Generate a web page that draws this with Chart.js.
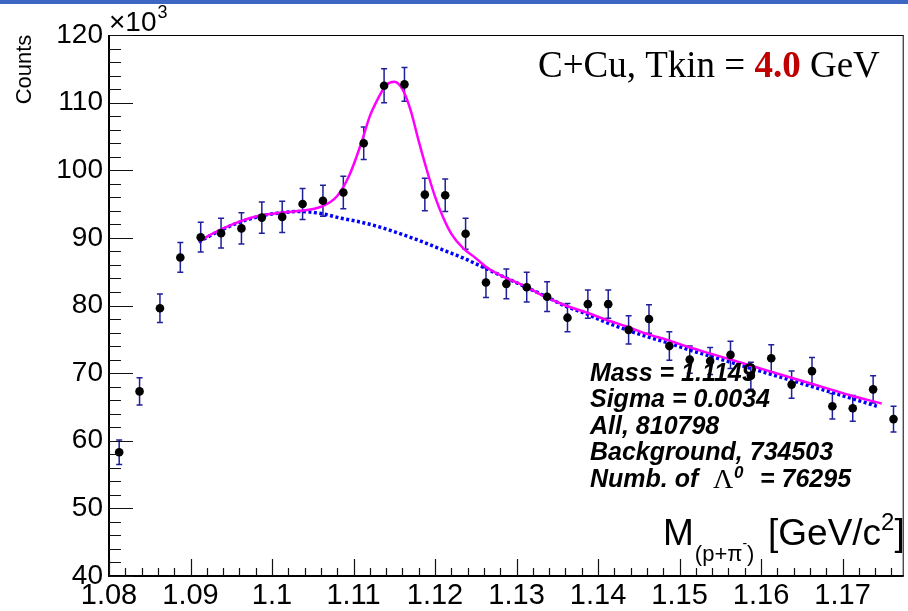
<!DOCTYPE html>
<html>
<head>
<meta charset="utf-8">
<title>Lambda C+Cu</title>
<script src="https://cdn.jsdelivr.net/npm/chart.js@4.4.1/dist/chart.umd.min.js"></script>
<style>
  html, body { margin: 0; padding: 0; background: #ffffff; }
  #grafica-container { width: 908px; height: 611px; position: relative; }
</style>
</head>
<body>
<div id="grafica-container"><canvas id="graficaMasa"></canvas></div>
<script>
// Centros de los bins de masa invariante (GeV/c^2)
const massBins = [1.08125, 1.08375, 1.08625, 1.08875, 1.09125, 1.09375, 1.09625, 1.09875,
    1.10125, 1.10375, 1.10625, 1.10875, 1.11125, 1.11375, 1.11625, 1.11875, 1.12125, 1.12375,
    1.12625, 1.12875, 1.13125, 1.13375, 1.13625, 1.13875, 1.14125, 1.14375, 1.14625, 1.14875,
    1.15125, 1.15375, 1.15625, 1.15875, 1.16125, 1.16375, 1.16625, 1.16875, 1.17125, 1.17375, 1.17625];

// Cuentas por bin (x10^3) y sus errores
const counts = [58.3, 67.3, 79.6, 87.1, 90.1, 90.7, 91.4, 93.0, 93.1, 95.0, 95.5, 96.7, 104.0,
    112.5, 112.7, 96.4, 96.3, 90.6, 83.4, 83.2, 82.7, 81.3, 78.2, 80.2, 80.2, 76.4, 78.0, 74.0,
    72.0, 71.8, 72.7, 69.6, 72.2, 68.3, 70.3, 65.1, 64.8, 67.6, 63.2];
const countErrors = [1.8, 2.0, 2.1, 2.2, 2.2, 2.2, 2.3, 2.3, 2.3, 2.3, 2.3, 2.4, 2.4, 2.5, 2.5,
    2.4, 2.4, 2.3, 2.2, 2.2, 2.2, 2.2, 2.1, 2.1, 2.1, 2.1, 2.1, 2.1, 2.0, 2.0, 2.0, 2.0, 2.0,
    2.0, 2.0, 1.9, 1.9, 2.0, 1.9];

// Ajuste total (gauss + fondo)
const fitMass = [1.091, 1.0935, 1.096, 1.0985, 1.101, 1.1035, 1.106, 1.108, 1.1095, 1.111, 1.112,
    1.113, 1.114, 1.115, 1.116, 1.117, 1.118, 1.119, 1.120, 1.121, 1.122, 1.1235, 1.125, 1.1265,
    1.1285, 1.131, 1.1335, 1.136, 1.1385, 1.141, 1.1435, 1.146, 1.1485, 1.151, 1.1535, 1.156,
    1.1585, 1.161, 1.1635, 1.166, 1.1685, 1.171, 1.1748];
const fitTotal = [89.5, 91.1, 92.4, 93.3, 93.7, 94.0, 94.6, 96.2, 99.3, 104.2, 108.0, 110.6,
    112.6, 113.1, 112.0, 108.9, 104.3, 100.0, 96.1, 93.0, 90.6, 88.4, 87.0, 85.5, 84.2, 82.9,
    81.3, 80.0, 79.0, 77.9, 76.9, 75.8, 74.9, 73.9, 73.0, 72.1, 71.2, 70.3, 69.4, 68.5, 67.6,
    66.7, 65.5];

// Fondo del ajuste
const bgMass = [1.091, 1.0935, 1.096, 1.0985, 1.101, 1.1035, 1.106, 1.1085, 1.111, 1.1135, 1.116,
    1.1185, 1.121, 1.1235, 1.126, 1.1285, 1.131, 1.1335, 1.136, 1.1385, 1.141, 1.1435, 1.146,
    1.1485, 1.151, 1.1535, 1.156, 1.1585, 1.161, 1.1635, 1.166, 1.1685, 1.171, 1.1742];
const bgFit = [89.4, 91.0, 92.3, 93.2, 93.7, 93.9, 93.6, 92.9, 92.3, 91.5, 90.5, 89.4, 88.2,
    87.0, 85.6, 84.2, 82.8, 81.4, 79.9, 78.8, 77.5, 76.4, 75.4, 74.5, 73.5, 72.6, 71.7, 70.8,
    69.9, 69.0, 68.1, 67.2, 66.3, 65.1];

// Marcas de los ejes
const xTickValues = [1.08, 1.09, 1.10, 1.11, 1.12, 1.13, 1.14, 1.15, 1.16, 1.17];
const yTickValues = [40, 50, 60, 70, 80, 90, 100, 110, 120];

const statLines = ['Mass = 1.1149', 'Sigma = 0.0034', 'All, 810798', 'Background, 734503'];

const SANS = '"Liberation Sans", Arial, Helvetica, sans-serif';
const SERIF = '"Liberation Serif", "Times New Roman", serif';

// Barras de error detras de los puntos
const errorBarsPlugin = {
    id: 'errorBars',
    beforeDatasetsDraw(chart) {
        const ctx = chart.ctx;
        const xs = chart.scales.x, ys = chart.scales.y;
        ctx.save();
        ctx.strokeStyle = '#1f1f9a';
        ctx.lineWidth = 1.5;
        massBins.forEach((m, i) => {
            const px = xs.getPixelForValue(m);
            const top = ys.getPixelForValue(counts[i] + countErrors[i]);
            const bot = ys.getPixelForValue(counts[i] - countErrors[i]);
            ctx.beginPath();
            ctx.moveTo(px, top); ctx.lineTo(px, bot);
            ctx.moveTo(px - 3, top); ctx.lineTo(px + 3, top);
            ctx.moveTo(px - 3, bot); ctx.lineTo(px + 3, bot);
            ctx.stroke();
        });
        ctx.restore();
    }
};

// Marco, ticks internos y textos
const framePlugin = {
    id: 'rootFrame',
    beforeDraw(chart) {
        const ctx = chart.ctx;
        ctx.save();
        ctx.fillStyle = '#ffffff';
        ctx.fillRect(0, 0, chart.width, chart.height);
        ctx.fillStyle = '#3d65c4';
        ctx.fillRect(0, 0, chart.width, 4);
        ctx.restore();
    },
    afterDraw(chart) {
        const ctx = chart.ctx;
        const a = chart.chartArea;
        const xs = chart.scales.x, ys = chart.scales.y;
        ctx.save();

        // marco
        ctx.strokeStyle = '#000';
        ctx.lineWidth = 1;
        ctx.strokeRect(a.left + 0.5, a.top + 0.5, a.right - a.left - 1, a.bottom - a.top - 1);
        ctx.lineWidth = 2;
        ctx.beginPath();
        ctx.moveTo(a.left, a.top); ctx.lineTo(a.left, a.bottom);
        ctx.lineTo(a.right, a.bottom);
        ctx.stroke();

        // ticks eje Y
        ctx.lineWidth = 1.2;
        ctx.strokeStyle = '#111';
        ctx.beginPath();
        for (let v = 40; v <= 120; v += 2) {
            const py = Math.round(ys.getPixelForValue(v)) + 0.5;
            const len = (v % 10 === 0) ? 24 : 12;
            ctx.moveTo(a.left, py); ctx.lineTo(a.left + len, py);
        }
        // ticks eje X
        for (let k = 0; 1.08 + k * 0.002 <= 1.1775 + 1e-9; k++) {
            const px = Math.round(xs.getPixelForValue(1.08 + k * 0.002)) + 0.5;
            const len = (k % 5 === 0) ? 17 : 8;
            ctx.moveTo(px, a.bottom); ctx.lineTo(px, a.bottom - len);
        }
        ctx.stroke();

        ctx.fillStyle = '#000';
        ctx.textBaseline = 'alphabetic';

        // x10^3
        ctx.textAlign = 'left';
        ctx.font = '28px ' + SANS;
        ctx.fillText('\u00d710', 109, 31);
        const w10 = ctx.measureText('\u00d710').width;
        ctx.font = '18px ' + SANS;
        ctx.fillText('3', 109 + w10 + 1, 18);

        // titulo eje Y
        ctx.save();
        ctx.translate(31, 69.5);
        ctx.rotate(-Math.PI / 2);
        ctx.textAlign = 'center';
        ctx.font = '22px ' + SANS;
        ctx.fillText('Counts', 0, 0);
        ctx.restore();

        // titulo eje X
        let x = 663;
        ctx.font = '37px ' + SANS;
        ctx.fillText('M', x, 545);
        x += ctx.measureText('M').width + 1;
        ctx.font = '22px ' + SANS;
        ctx.fillText('(p+\u03c0', x, 561);
        x += ctx.measureText('(p+\u03c0').width;
        ctx.font = '14px ' + SANS;
        ctx.fillText('-', x, 548);
        x += ctx.measureText('-').width;
        ctx.font = '22px ' + SANS;
        ctx.fillText(')', x, 561);
        x = 768;
        ctx.font = '37px ' + SANS;
        ctx.fillText('[GeV/c', x, 545);
        x += ctx.measureText('[GeV/c').width;
        ctx.font = '24px ' + SANS;
        ctx.fillText('2', x, 530);
        x += ctx.measureText('2').width;
        ctx.font = '37px ' + SANS;
        ctx.fillText(']', x, 545);

        // titulo de la reaccion
        x = 538;
        ctx.font = '37px ' + SERIF;
        ctx.fillText('C+Cu, Tkin = ', x, 77);
        x += ctx.measureText('C+Cu, Tkin = ').width;
        ctx.font = 'bold 37px ' + SERIF;
        ctx.fillStyle = '#c00000';
        ctx.fillText('4.0', x, 77);
        x += ctx.measureText('4.0').width;
        ctx.fillStyle = '#000';
        ctx.font = '37px ' + SERIF;
        ctx.fillText(' GeV', x, 77);

        // resultados del ajuste
        ctx.font = 'italic bold 25px ' + SANS;
        statLines.forEach((t, i) => ctx.fillText(t, 590, 380.5 + i * 26.5));
        const yl = 380.5 + 4 * 26.5;
        ctx.fillText('Numb. of', 590, yl);
        ctx.font = '28px ' + SERIF;
        ctx.fillText('\u039b', 713, yl + 1);
        ctx.font = 'italic bold 17px ' + SANS;
        ctx.fillText('0', 734, yl - 9);
        ctx.font = 'italic bold 25px ' + SANS;
        ctx.fillText('= 76295', 760, yl);

        ctx.restore();
    }
};

document.addEventListener('DOMContentLoaded', function() {
    const container = document.getElementById('grafica-container');
    if (!container) return;

    try {
        const ctx = document.getElementById('graficaMasa').getContext('2d');
        new Chart(ctx, {
            type: 'scatter',
            data: {
                datasets: [
                    {
                        label: 'Datos',
                        data: massBins.map((m, i) => ({ x: m, y: counts[i] })),
                        pointRadius: 4.3,
                        pointBackgroundColor: '#000',
                        pointBorderWidth: 0,
                        showLine: false,
                        order: 0
                    },
                    {
                        label: 'Ajuste',
                        data: fitMass.map((m, i) => ({ x: m, y: fitTotal[i] })),
                        showLine: true,
                        borderColor: '#ff00ff',
                        borderWidth: 2.5,
                        pointRadius: 0,
                        cubicInterpolationMode: 'monotone',
                        order: 1
                    },
                    {
                        label: 'Fondo',
                        data: bgMass.map((m, i) => ({ x: m, y: bgFit[i] })),
                        showLine: true,
                        borderColor: '#0000ff',
                        borderWidth: 3.5,
                        borderDash: [3, 2.5],
                        pointRadius: 0,
                        cubicInterpolationMode: 'monotone',
                        order: 2
                    }
                ]
            },
            options: {
                responsive: true,
                maintainAspectRatio: false,
                animation: false,
                devicePixelRatio: 1,
                layout: { padding: { top: 35, right: 1, left: 0, bottom: 0 } },
                plugins: {
                    legend: { display: false },
                    tooltip: { enabled: false }
                },
                scales: {
                    x: {
                        type: 'linear',
                        min: 1.08,
                        max: 1.1775,
                        grid: { display: false, drawTicks: false },
                        border: { display: false },
                        afterBuildTicks: s => { s.ticks = xTickValues.map(v => ({ value: v })); },
                        afterFit: s => { s.height = 35; },
                        ticks: {
                            color: '#000',
                            padding: 3,
                            maxRotation: 0,
                            autoSkip: false,
                            font: { family: SANS, size: 29 },
                            callback: v => String(parseFloat(Number(v).toFixed(2)))
                        }
                    },
                    y: {
                        type: 'linear',
                        min: 40,
                        max: 120,
                        grid: { display: false, drawTicks: false },
                        border: { display: false },
                        afterBuildTicks: s => { s.ticks = yTickValues.map(v => ({ value: v })); },
                        afterFit: s => { s.width = 109; },
                        ticks: {
                            color: '#000',
                            padding: 6,
                            autoSkip: false,
                            font: { family: SANS, size: 28 },
                            callback: v => String(v)
                        }
                    }
                }
            },
            plugins: [errorBarsPlugin, framePlugin]
        });
    } catch (error) {
        console.error('Error al crear el grafico:', error);
        container.innerHTML = '<div>Error al cargar el grafico: ' + error.message + '</div>';
    }
});
</script>
</body>
</html>
